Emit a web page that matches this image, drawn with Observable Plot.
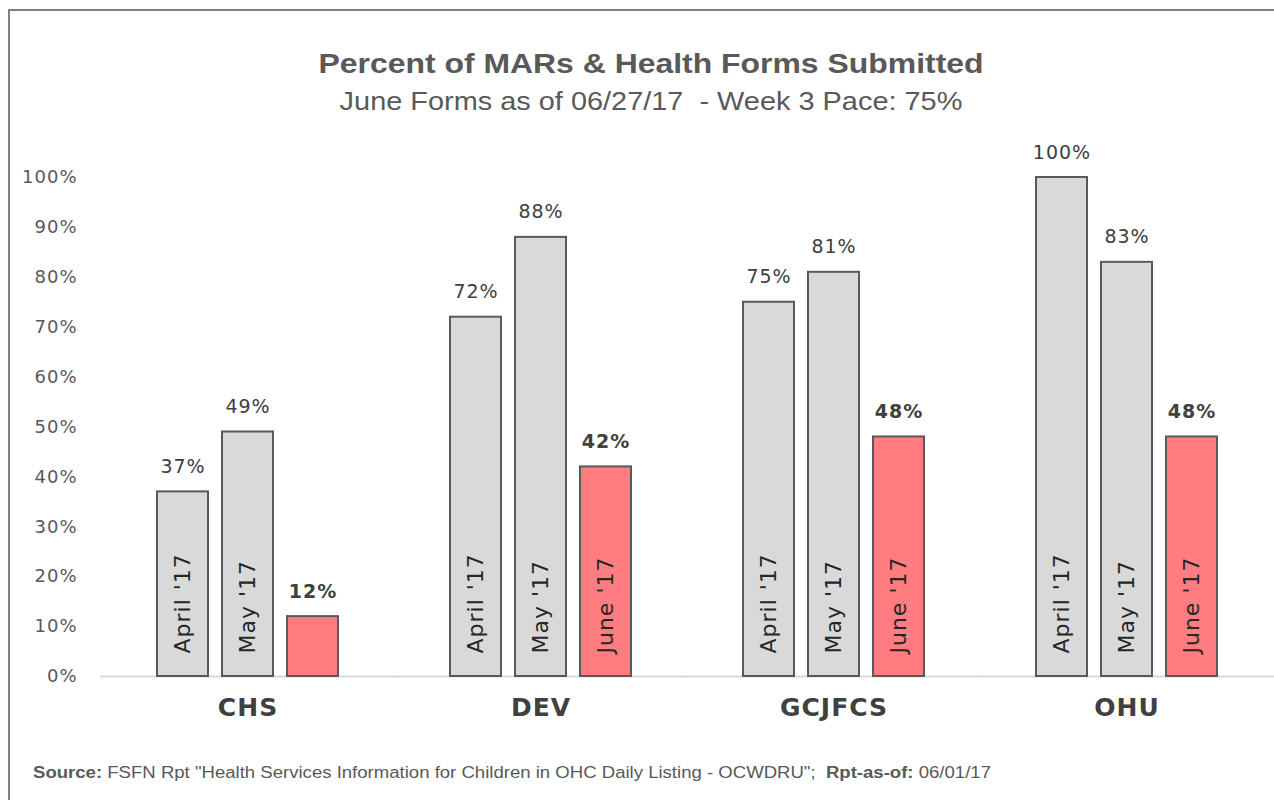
<!DOCTYPE html>
<html><head><meta charset="utf-8">
<script src="https://cdn.jsdelivr.net/npm/d3@7"></script>
<script src="https://cdn.jsdelivr.net/npm/@observablehq/plot@0.6"></script>
<style>
html,body{margin:0;padding:0;background:#fff}
body{width:1274px;height:800px;overflow:hidden;position:relative;font-family:"Liberation Sans",Arial,sans-serif}
#frame{position:absolute;left:8px;top:9px;width:1300px;height:820px;border-top:2px solid #808080;border-left:2px solid #808080;box-sizing:border-box}
#title{position:absolute;top:48px;left:0;width:1302px;text-align:center;font-weight:bold;font-size:28px;line-height:32px;color:#595959;transform:scaleX(1.14);transform-origin:651px 0}
#subtitle{position:absolute;top:87px;left:0;width:1302px;text-align:center;font-size:25px;line-height:28px;color:#595959;transform:scaleX(1.156);transform-origin:651px 0}
#chart{position:absolute;left:0;top:130px}
#footer{position:absolute;left:33px;top:764px;font-size:16px;line-height:18px;color:#595959;white-space:pre;transform:scaleX(1.16);transform-origin:0 0}
</style></head>
<body>
<div id="frame"></div>
<div id="title">Percent of MARs &amp; Health Forms Submitted</div>
<div id="subtitle">June Forms as of 06/27/17&nbsp; - Week 3 Pace: 75%</div>
<div id="chart"></div>
<div id="footer"><b>Source:</b> FSFN Rpt "Health Services Information for Children in OHC Daily Listing - OCWDRU";  <b>Rpt-as-of:</b> 06/01/17</div>
<script>
const categories = ["CHS", "DEV", "GCJFCS", "OHU"];
const months = ["April '17", "May '17", "June '17"];
const april = [0.37, 0.72, 0.75, 1.00];
const may = [0.49, 0.88, 0.81, 0.83];
const june = [0.12, 0.42, 0.48, 0.48];
const yTicks = [0, 0.1, 0.2, 0.3, 0.4, 0.5, 0.6, 0.7, 0.8, 0.9, 1.0];

const series = [april, may, june];
const data = categories.flatMap((c, i) => months.map((m, j) => ({cat: c, month: m, value: series[j][i]})));
const pct = d => Math.round(d * 100) + "%";

const chart = Plot.plot({
  width: 1274,
  height: 600,
  marginLeft: 100,
  marginRight: 0,
  marginTop: 47,
  marginBottom: 54,
  style: {fontFamily: "'DejaVu Sans', sans-serif", color: "#595959", background: "transparent", overflow: "visible"},
  fx: {domain: categories, paddingInner: 0.374, paddingOuter: 0.184, label: null, tickSize: 0, tickPadding: 22},
  x: {domain: months, paddingInner: 0.212, paddingOuter: 0, axis: null},
  y: {domain: [0, 1], ticks: yTicks, tickFormat: pct, tickSize: 0, tickPadding: 79, label: null},
  color: {domain: months, range: ["#D9D9D9", "#D9D9D9", "#FF7C80"]},
  marks: [
    Plot.ruleY([0], {stroke: "#d9d9d9", strokeWidth: 2, insetLeft: -56, insetRight: -56}),
    Plot.barY(data, {fx: "cat", x: "month", y: "value", fill: "month", stroke: "#595959", strokeWidth: 2}),
    Plot.text(data.filter(d => d.month !== months[2]), {fx: "cat", x: "month", y: "value", text: d => pct(d.value), dy: -19, lineAnchor: "bottom", fontSize: 19, fill: "#404040"}),
    Plot.text(data.filter(d => d.month === months[2]), {fx: "cat", x: "month", y: "value", text: d => pct(d.value), dy: -19, lineAnchor: "bottom", fontSize: 19, fontWeight: "bold", fill: "#404040"}),
    Plot.text(data.filter(d => d.value >= 0.2), {fx: "cat", x: "month", y: 0, text: "month", rotate: -90, textAnchor: "start", lineAnchor: "middle", dy: -23, fontSize: 22, fill: "#262626"})
  ]
});
chart.querySelectorAll('g[aria-label="fx-axis tick label"]').forEach(el => {
  el.setAttribute("font-size", "25");
  el.setAttribute("font-weight", "bold");
  el.setAttribute("fill", "#404040");
  el.setAttribute("letter-spacing", "1");
});
chart.querySelectorAll('g[aria-label="y-axis tick label"]').forEach(el => {
  el.setAttribute("font-size", "18");
  el.setAttribute("letter-spacing", "1");
});
chart.querySelectorAll('g[aria-label="text"]').forEach(el => {
  el.setAttribute("letter-spacing", "1");
});
document.getElementById("chart").appendChild(chart);
</script>
</body></html>
